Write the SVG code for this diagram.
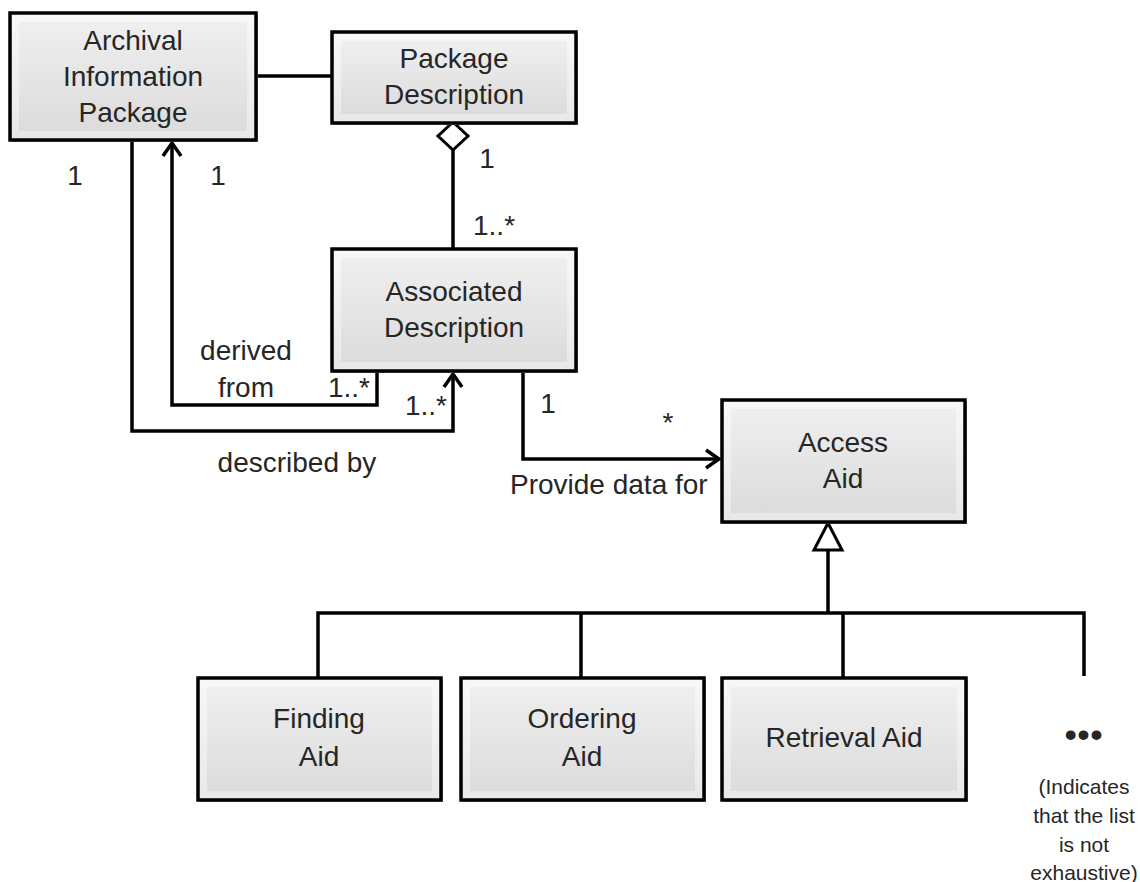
<svg xmlns="http://www.w3.org/2000/svg" width="1140" height="882" viewBox="0 0 1140 882">
<defs>
<style>
.box{fill:url(#outer);stroke:#000;stroke-width:3.5}
.inner{fill:url(#inner)}
.shadow{fill:#a0a0a0}
.t{font-family:"Liberation Sans",Arial,sans-serif;font-size:28px;fill:#262626;text-anchor:middle}
.lbl{font-family:"Liberation Sans",Arial,sans-serif;font-size:28px;fill:#262626}
.note{font-family:"Liberation Sans",Arial,sans-serif;font-size:21px;fill:#262626;text-anchor:middle}
.c{fill:none;stroke:#000;stroke-width:3.5}
.open{fill:#fff;stroke:#000;stroke-width:3}
</style>
<linearGradient id="outer" x1="0" y1="0" x2="0" y2="1">
<stop offset="0" stop-color="#f8f8f8"/>
<stop offset="1" stop-color="#e8e8e8"/>
</linearGradient>
<linearGradient id="inner" x1="0" y1="0" x2="0" y2="1">
<stop offset="0" stop-color="#efefef"/>
<stop offset="1" stop-color="#dcdcdc"/>
</linearGradient>
<marker id="arr" markerUnits="userSpaceOnUse" viewBox="-16 -12 20 24" markerWidth="20" markerHeight="24" refX="0" refY="0" orient="auto">
<path d="M-13,-9 L0,0 L-13,9" fill="none" stroke="#000" stroke-width="3.5"/>
</marker>
</defs>

<g id="connectors">
<line class="c" x1="256" y1="76" x2="332" y2="76"/>
<line class="c" x1="453" y1="150" x2="453" y2="249"/>
<polygon class="open" points="453,122 468,136 453,150 438,136"/>
<polyline class="c" points="377,371 377,405 172,405 172,143" marker-end="url(#arr)"/>
<polyline class="c" points="132,140 132,431 453,431 453,374" marker-end="url(#arr)"/>
<polyline class="c" points="523,371 523,459 719,459" marker-end="url(#arr)"/>
<line class="c" x1="828" y1="550" x2="828" y2="613"/>
<polygon class="open" points="828,523 842,550 814,550"/>
<polyline class="c" points="318,678 318,613 1084,613 1084,676"/>
<line class="c" x1="581" y1="613" x2="581" y2="678"/>
<line class="c" x1="843" y1="613" x2="843" y2="678"/>
</g>

<g id="labels">
<text class="t" x="75" y="185">1</text>
<text class="t" x="218" y="185">1</text>
<text class="t" x="487" y="168">1</text>
<text class="lbl" x="473" y="235">1..*</text>
<text class="t" x="246" y="360">derived</text>
<text class="t" x="246" y="397">from</text>
<text class="lbl" x="370" y="397" text-anchor="end">1..*</text>
<text class="lbl" x="447" y="415" text-anchor="end">1..*</text>
<text class="t" x="297" y="472">described by</text>
<text class="t" x="548" y="413">1</text>
<text class="t" x="668" y="432">*</text>
<text class="lbl" x="510" y="494">Provide data for</text>
</g>

<g id="aip">
<rect class="shadow" x="12" y="15" width="246" height="127"/>
<rect class="box" x="10" y="13" width="246" height="127"/>
<rect class="inner" x="19" y="22" width="228" height="109"/>
<text class="t" x="133" y="50">Archival</text>
<text class="t" x="133" y="86">Information</text>
<text class="t" x="133" y="122">Package</text>
</g>

<g id="package-description">
<rect class="shadow" x="334" y="34" width="244" height="91"/>
<rect class="box" x="332" y="32" width="244" height="91"/>
<rect class="inner" x="341" y="41" width="226" height="73"/>
<text class="t" x="454" y="68">Package</text>
<text class="t" x="454" y="104">Description</text>
</g>

<g id="associated-description">
<rect class="shadow" x="334" y="251" width="244" height="122"/>
<rect class="box" x="332" y="249" width="244" height="122"/>
<rect class="inner" x="341" y="258" width="226" height="104"/>
<text class="t" x="454" y="301">Associated</text>
<text class="t" x="454" y="337">Description</text>
</g>

<g id="access-aid">
<rect class="shadow" x="724" y="402" width="243" height="122"/>
<rect class="box" x="722" y="400" width="243" height="122"/>
<rect class="inner" x="731" y="409" width="225" height="104"/>
<text class="t" x="843" y="452">Access</text>
<text class="t" x="843" y="488">Aid</text>
</g>

<g id="finding-aid">
<rect class="shadow" x="200" y="680" width="243" height="122"/>
<rect class="box" x="198" y="678" width="243" height="122"/>
<rect class="inner" x="207" y="687" width="225" height="104"/>
<text class="t" x="319" y="728">Finding</text>
<text class="t" x="319" y="766">Aid</text>
</g>

<g id="ordering-aid">
<rect class="shadow" x="463" y="680" width="243" height="122"/>
<rect class="box" x="461" y="678" width="243" height="122"/>
<rect class="inner" x="470" y="687" width="225" height="104"/>
<text class="t" x="582" y="728">Ordering</text>
<text class="t" x="582" y="766">Aid</text>
</g>

<g id="retrieval-aid">
<rect class="shadow" x="724" y="680" width="244" height="122"/>
<rect class="box" x="722" y="678" width="244" height="122"/>
<rect class="inner" x="731" y="687" width="226" height="104"/>
<text class="t" x="844" y="747">Retrieval Aid</text>
</g>

<g id="more">
<text class="t" x="1084" y="746" style="font-size:34px;font-weight:bold;letter-spacing:1px">•••</text>
<text class="note" x="1084" y="794">(Indicates</text>
<text class="note" x="1084" y="823">that the list</text>
<text class="note" x="1084" y="852">is not</text>
<text class="note" x="1084" y="880">exhaustive)</text>
</g>
</svg>
